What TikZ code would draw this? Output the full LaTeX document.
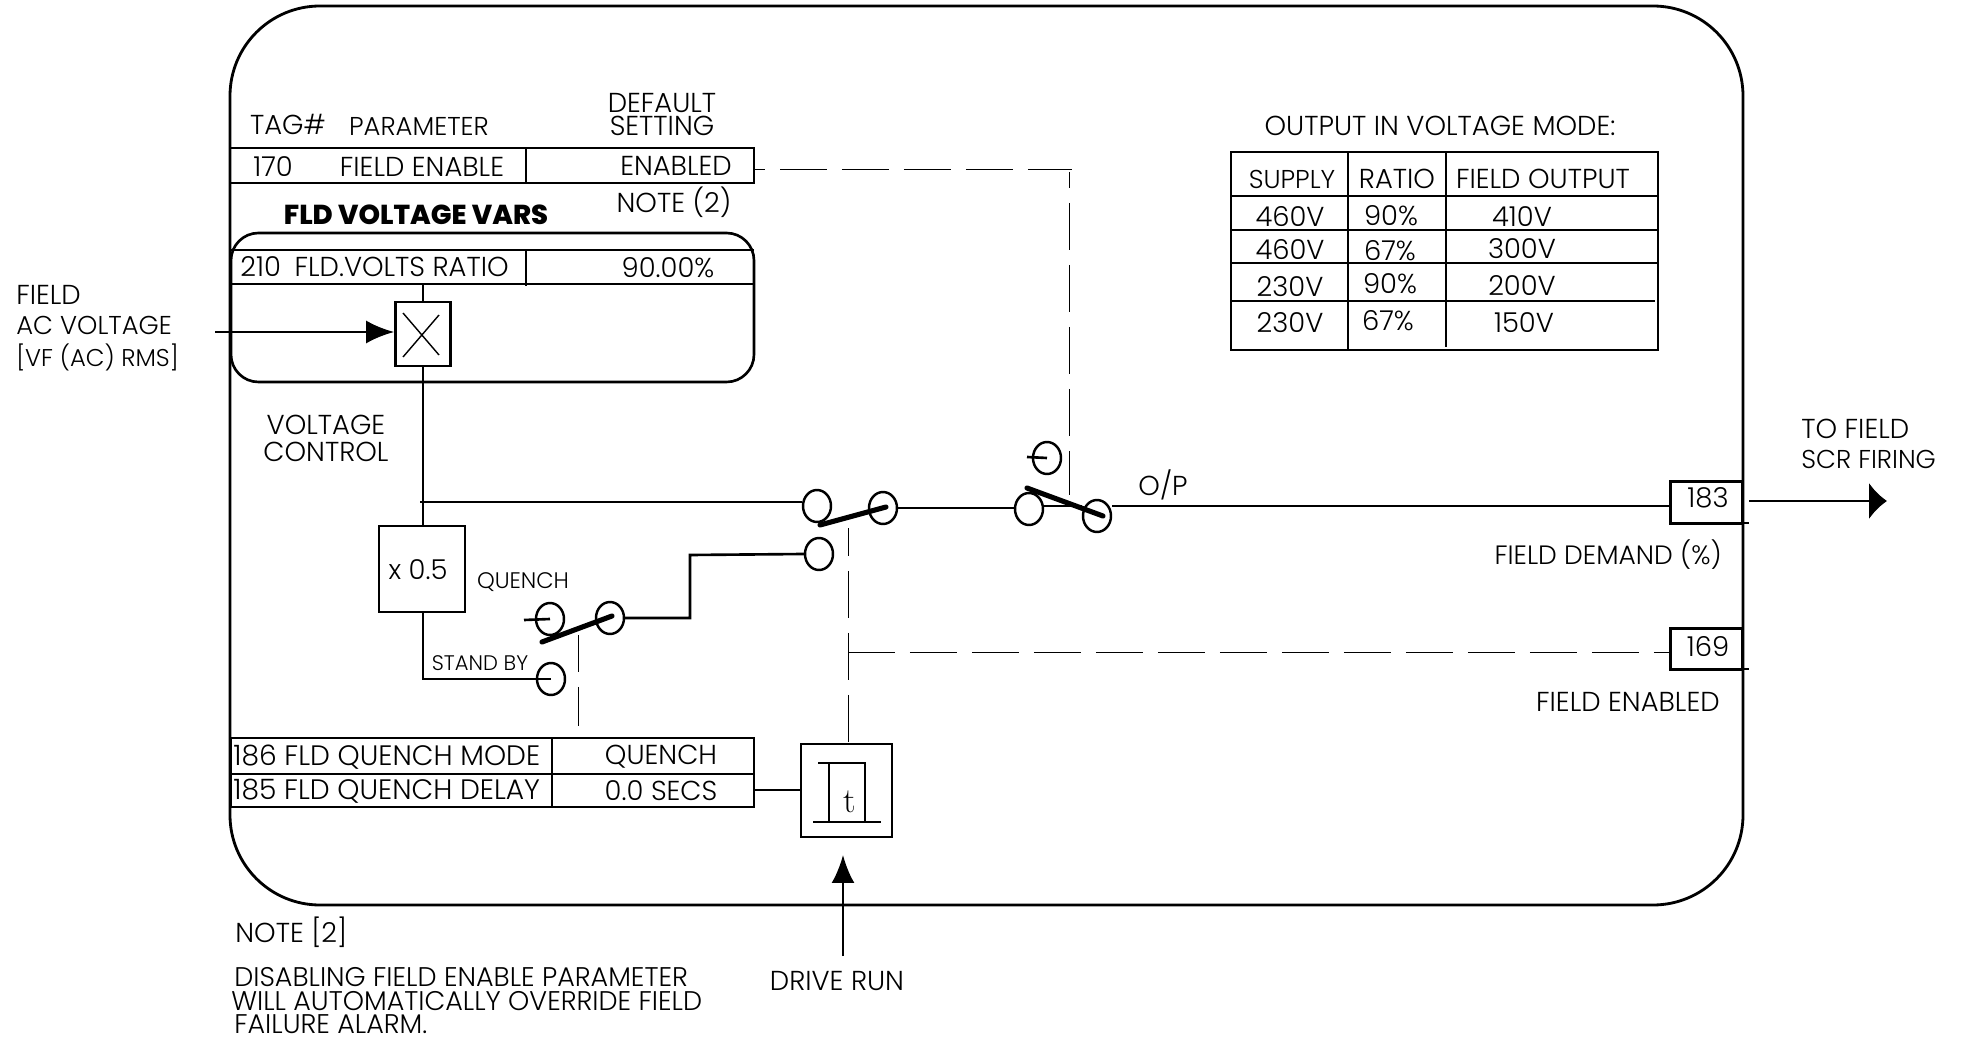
\documentclass[tikz,border=0pt]{standalone}
\usepackage{fontspec}
\setmainfont{Poppins}[UprightFont=* Light,BoldFont=* ExtraBold]
\usetikzlibrary{arrows.meta,shapes.geometric}
\tikzset{
  lbl/.style={inner sep=0pt,font=\fontsize{15.6}{16}\selectfont},
  lbltight/.style={inner sep=0pt,font=\fontsize{14.7}{16}\selectfont},
  lblnote/.style={inner sep=0pt,font=\fontsize{15.35}{16}\selectfont},
  lblsmall/.style={inner sep=0pt,font=\fontsize{12.8}{13}\selectfont},
  wire/.style={line width=1.5pt},
  frame/.style={line width=1.6pt},
  ctl/.style={line width=0.45pt,black,dash pattern=on 0.94cm off 0.3cm},
  lever/.style={line width=2.9pt,line cap=round},
  contact/.style={draw,ellipse,line width=1.4pt,inner sep=0pt,minimum width=0.56cm,minimum height=0.64cm},
  fn/.style={draw,line width=1.5pt,inner sep=0pt},
  bigtip/.style={-{Latex[length=0.56cm,width=0.46cm]}},
}
\begin{document}
\begin{tikzpicture}[x=0.02cm,y=-0.02cm]
\useasboundingbox (0,0) rectangle (1962,1037);
\draw[frame,rounded corners=1.8cm] (230,6) rectangle (1743,905);
\draw[wire,rounded corners=0.55cm] (231,233) rectangle (754,382);
\draw[wire] (230,148) -- (754,148) -- (754,183) -- (230,183);
\draw[wire] (526,148) -- (526,183);
\draw[wire] (231,250) -- (754,250);
\draw[wire] (231,284) -- (754,284);
\draw[wire] (526,250) -- (526,286);
\draw[wire] (231,738) rectangle (754,807);
\draw[wire] (231,774) -- (754,774);
\draw[wire] (552,738) -- (552,807);
\draw[wire] (1231,152) rectangle (1658,350);
\draw[wire] (1231,196) -- (1658,196);
\draw[wire] (1231,230) -- (1658,230);
\draw[wire] (1231,263) -- (1658,263);
\draw[wire] (1231,301) -- (1655,301);
\draw[wire] (1348,152) -- (1348,350);
\draw[wire] (1446,152) -- (1446,347);
\node[lbl] (taghead) at (288,124) {TAG\#};
\node[lbltight] (parhead) at (419,126) {PARAMETER};
\node[lbl] (defhead) at (662,103) {DEFAULT};
\node[lbl] (sethead) at (662,126) {SETTING};
\node[lbl] (tag170) at (273,167) {170};
\node[lbl] (par170) at (422,167) {FIELD ENABLE};
\node[lbl] (val170) at (676,166) {ENABLED};
\node[lbl] (note2) at (674,202) {NOTE (2)};
\node[lbl,font=\fontsize{15.6}{16}\selectfont\bfseries] (vars) at (416,215) {FLD VOLTAGE VARS};
\node[lbl,anchor=west] (par210) at (240,267) {210\hspace{0.5em}FLD.VOLTS RATIO};
\node[lbl] (val210) at (668,268) {90.00\%};
\node[lbl,anchor=west] (fld1) at (16,295) {FIELD};
\node[lbltight,anchor=west] (fld2) at (16,325) {AC VOLTAGE};
\node[lbl,anchor=west,font=\fontsize{13.8}{16}\selectfont] (fld3) at (16,357) {[VF (AC) RMS]};
\node[lbl] (vctl1) at (326,425) {VOLTAGE};
\node[lbl] (vctl2) at (326,452) {CONTROL};
\node[lblsmall] (qlab) at (523,582) {QUENCH};
\node[lblsmall,font=\fontsize{12}{13}\selectfont] (slab) at (480,663) {STAND BY};
\node[lbl,anchor=west,font=\fontsize{16}{16}\selectfont] (par186) at (233,757) {186 FLD QUENCH MODE};
\node[lbl,anchor=west,font=\fontsize{16}{16}\selectfont] (par185) at (233,791) {185 FLD QUENCH DELAY};
\node[lbl] (val186) at (661,757) {QUENCH};
\node[lbl] (val185) at (661,791) {0.0 SECS};
\node[lbl] (title) at (1440,126) {OUTPUT IN VOLTAGE MODE:};
\node[lbltight] (h1) at (1292,179) {SUPPLY};
\node[lbl] (h2) at (1397,179) {RATIO};
\node[lbl] (h3) at (1543,179) {FIELD OUTPUT};
\node[lbl] (r1a) at (1290,217) {460V};
\node[lbl] (r1b) at (1391,216) {90\%};
\node[lbl] (r1c) at (1522,217) {410V};
\node[lbl] (r2a) at (1290,250) {460V};
\node[lbl] (r2b) at (1390,251) {67\%};
\node[lbl] (r2c) at (1522,249) {300V};
\node[lbl] (r3a) at (1290,287) {230V};
\node[lbl] (r3b) at (1390,284) {90\%};
\node[lbl] (r3c) at (1522,286) {200V};
\node[lbl] (r4a) at (1290,323) {230V};
\node[lbl] (r4b) at (1388,321) {67\%};
\node[lbl] (r4c) at (1524,323) {150V};
\node[lbl] (op) at (1163,485) {O/P};
\node[lbl,anchor=west] (to1) at (1801,429) {TO FIELD};
\node[lbltight,anchor=west] (to2) at (1801,459) {SCR FIRING};
\node[lbl,anchor=east,font=\fontsize{15.1}{16}\selectfont] (dem) at (1722,555) {FIELD DEMAND (\%)};
\node[lbl,anchor=east] (ena) at (1720,702) {FIELD ENABLED};
\node[lbl] (run) at (837,981) {DRIVE RUN};
\node[lbl,anchor=west] (n1) at (235,932) {NOTE [2]};
\node[lblnote,anchor=west] (n2) at (234,977) {DISABLING FIELD ENABLE PARAMETER};
\node[lblnote,anchor=west] (n3) at (231,1001) {WILL AUTOMATICALLY OVERRIDE FIELD};
\node[lblnote,anchor=west] (n4) at (234,1024) {FAILURE ALARM.};
\node[fn,minimum width=1.1cm,minimum height=1.28cm] (mul) at (423,334) {};
\draw[line width=0.8pt] (403,313) -- (439,355);
\draw[line width=0.8pt] (439,315) -- (403,357);
\node[fn,minimum width=1.72cm,minimum height=1.72cm] (half) at (422,569) {};
\node[lbl] (halftxt) at (418,570) {x 0.5};
\node[contact] (qa) at (550,619) {};
\node[contact] (qb) at (551,679) {};
\node[contact] (qc) at (610,618) {};
\node[contact] (ma) at (817,506) {};
\node[contact] (mb) at (819,554) {};
\node[contact] (mc) at (883,508) {};
\node[contact] (oa) at (1029,509) {};
\node[contact] (ob) at (1047,458) {};
\node[contact] (oc) at (1097,516) {};
\node[fn,minimum width=1.82cm,minimum height=1.86cm] (timer) at (846.5,790.5) {};
\node[inner sep=0pt,font=\fontfamily{lmr}\fontsize{20}{20}\selectfont] (ttxt) at (850,802) {t};
\draw[wire] (829,822) -- (829,763);
\draw[wire] (818,763) -- (865,763) -- (865,822);
\draw[wire] (813,822) -- (881,822);
\node[fn,minimum width=1.44cm,minimum height=0.84cm,anchor=north west] (tag183) at (1669,480) {};
\node[lbl] (n183) at (1708,498) {183};
\node[fn,minimum width=1.44cm,minimum height=0.82cm,anchor=north west] (tag169) at (1669,627) {};
\node[lbl] (n169) at (1708,647) {169};
\draw[wire] (1743,523) -- (1749,523);
\draw[wire] (1743,669) -- (1749,669);
\coordinate (in1) at (215,332);
\coordinate (sup) at (423,284);
\coordinate (junc) at (420,502);
\coordinate (vjunc) at (423,502);
\coordinate (sby) at (423,679);
\coordinate (step1) at (690,618);
\coordinate (step2) at (690,555);
\coordinate (outa) at (1749,501);
\coordinate (outb) at (1887,501);
\coordinate (runa) at (843,956);
\coordinate (runb) at (843,855);
\coordinate (en) at (754,169);
\coordinate (encor) at (1072,169);
\coordinate (endrop) at (1069,172);
\coordinate (enend) at (1069,495);
\coordinate (swq) at (578,635);
\coordinate (swqend) at (578,726);
\coordinate (swm) at (848,528);
\coordinate (tee) at (848,652);
\draw[wire,bigtip] (in1) -- (mul.west |- in1);
\draw[wire] (sup) -- (mul.north);
\draw[wire] (mul.south) -- (vjunc) -- (half.north -| vjunc);
\draw[wire] (junc) -- (ma.west |- junc);
\draw[wire] (half.south -| sby) -- (sby) -- (qb.center);
\draw[wire] (qc.east) -- (step1) -- (step2) -- (mb.west);
\draw[wire] (mc.east) -- (oa.west |- mc.east);
\draw[wire] (oa.east |- 0,506) -- (oc.west |- 0,506);
\draw[wire] (oc.east |- 0,506) -- (tag183.west |- 0,506);
\draw[wire] (754,790) -- (timer.west |- 0,790);
\draw[wire] (524,620) -- (qa.center);
\draw[wire] (1027,457) -- (ob.center);
\draw[lever] (542,642) -- (612,616);
\draw[lever] (820,525) -- (886,507);
\draw[lever] (1027,488) -- (1103,516);
\draw[wire,-{Latex[length=0.36cm,width=0.74cm]}] (outa) -- (outb);
\draw[wire,bigtip] (runa) -- (runb);
\draw[ctl,dash phase=0.72cm] (en) -- (encor);
\draw[ctl,dash phase=0.62cm] (endrop) -- (enend);
\draw[ctl,dash phase=0.2cm] (swq) -- (swqend);
\draw[ctl,dash phase=0.38cm] (swm) -- (timer.north -| swm);
\draw[ctl] (tee) -- (tag169.west |- tee);
\end{tikzpicture}
\end{document}
